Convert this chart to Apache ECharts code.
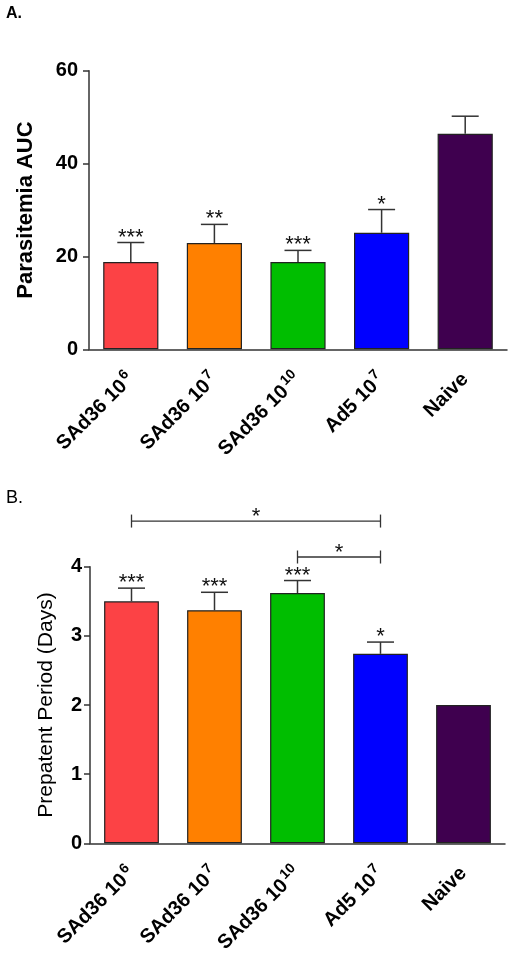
<!DOCTYPE html>
<html><head><meta charset="utf-8">
<script src="https://cdn.jsdelivr.net/npm/echarts@6/dist/echarts.min.js"></script>
<style>html,body{margin:0;padding:0;background:#fff}#c{width:511px;height:953px}</style>
</head><body><div id="c"></div>
<script>
var categories = ['SAd36 10^6', 'SAd36 10^7', 'SAd36 10^10', 'Ad5 10^7', 'Naive'];
var colors = ['#FC4245', '#FF8000', '#00BE00', '#0000FF', '#3F004F'];
var aucMean = [18.8, 22.9, 18.8, 25.1, 46.4];
var aucUpper = [23.0, 26.9, 21.3, 30.1, 50.2];
var aucStars = ['***', '**', '***', '*', ''];
var aucTicks = [0, 20, 40, 60];
var ppMean = [3.5, 3.37, 3.62, 2.74, 2.0];
var ppUpper = [3.69, 3.63, 3.80, 2.91, 2.0];
var ppStars = ['***', '***', '***', '*', ''];
var ppTicks = [0, 1, 2, 3, 4];
var brackets = [[0, 3, 4.66, '*'], [2, 3, 4.14, '*']];

function labelFmt(v) {
  var p = v.split('^');
  if (p.length === 1) return '{b|' + v + '}';
  return '{b|' + p[0] + '}{s|' + p[1] + '}';
}
var font = 'Liberation Sans, Arial, sans-serif';
function xAxis(gi) {
  return {
    type: 'category', gridIndex: gi, data: categories,
    axisLine: {lineStyle: {color: '#333', width: 1.5}},
    axisTick: {alignWithLabel: true, length: 6, lineStyle: {color: '#333', width: 1.5}},
    axisLabel: {
      rotate: 45, interval: 0, margin: 27, formatter: labelFmt,
      rich: {
        b: {fontFamily: font, fontWeight: 'bold', fontSize: 20, color: '#000'},
        s: {fontFamily: font, fontWeight: 'bold', fontSize: 14, color: '#000', verticalAlign: 'top', padding: [0, 0, 12, 2]}
      }
    }
  };
}
function yAxis(gi, max, interval, name, bold, nameGap, nameSize, margin) {
  return {
    type: 'value', gridIndex: gi, min: 0, max: max, interval: interval,
    name: name, nameLocation: 'middle', nameGap: nameGap,
    nameTextStyle: {fontFamily: font, fontWeight: bold ? 'bold' : 'normal', fontSize: nameSize, color: '#000'},
    splitLine: {show: false},
    axisLine: {show: true, lineStyle: {color: '#333', width: 1.5}},
    axisTick: {show: true, length: 6, lineStyle: {color: '#333', width: 1.5}},
    axisLabel: {fontFamily: font, fontWeight: 'bold', fontSize: 20, color: '#000', margin: margin}
  };
}
function barData(vals) {
  return vals.map(function (v, i) { return {value: v, itemStyle: {color: colors[i]}}; });
}
function errData(mean, upper, stars) {
  return mean.map(function (m, i) { return [i, m, upper[i], stars[i]]; });
}
function errRender(params, api) {
  var x = api.value(0), m = api.value(1), u = api.value(2);
  var p0 = api.coord([x, m]), p1 = api.coord([x, u]);
  var children = [];
  if (u > m) {
    children.push({type: 'line', shape: {x1: p0[0], y1: p0[1], x2: p1[0], y2: p1[1]}, style: {stroke: '#333', lineWidth: 1.5}});
    children.push({type: 'line', shape: {x1: p1[0] - 13.5, y1: p1[1], x2: p1[0] + 13.5, y2: p1[1]}, style: {stroke: '#333', lineWidth: 1.5}});
  }
  var s = api.value(3);
  if (s) {
    children.push({type: 'text', style: {text: s, x: p1[0], y: p1[1] + 6, align: 'center', verticalAlign: 'bottom', fontFamily: font, fontSize: 22, fill: '#111'}});
  }
  return {type: 'group', children: children};
}
function bracketRender(params, api) {
  var a = api.coord([api.value(0), api.value(2)]);
  var b = api.coord([api.value(1), api.value(2)]);
  var mid = (a[0] + b[0]) / 2;
  return {type: 'group', children: [
    {type: 'line', shape: {x1: a[0], y1: a[1], x2: b[0], y2: b[1]}, style: {stroke: '#333', lineWidth: 1.3}},
    {type: 'line', shape: {x1: a[0], y1: a[1] - 6.5, x2: a[0], y2: a[1] + 6.5}, style: {stroke: '#333', lineWidth: 1.3}},
    {type: 'line', shape: {x1: b[0], y1: b[1] - 6.5, x2: b[0], y2: b[1] + 6.5}, style: {stroke: '#333', lineWidth: 1.3}},
    {type: 'text', style: {text: api.value(3), x: mid, y: a[1] + 7, align: 'center', verticalAlign: 'bottom', fontFamily: font, fontSize: 22, fill: '#111'}}
  ]};
}

var chart = echarts.init(document.getElementById('c'), null, {renderer: 'canvas'});
chart.setOption({
  animation: false,
  backgroundColor: '#fff',
  title: [
    {text: 'A.', left: 1, top: 1, textStyle: {fontFamily: font, fontWeight: 'bold', fontSize: 16, color: '#000'}},
    {text: 'B.', left: 1, top: 484, textStyle: {fontFamily: font, fontWeight: 'normal', fontSize: 18, color: '#000'}}
  ],
  grid: [
    {left: 89, top: 70.7, width: 418, height: 278.6, outerBoundsMode: 'none', containLabel: false},
    {left: 90, top: 566.7, width: 415, height: 276.6, outerBoundsMode: 'none', containLabel: false}
  ],
  xAxis: [xAxis(0), xAxis(1)],
  yAxis: [
    yAxis(0, 60, 20, 'Parasitemia AUC', true, 52, 22, 11),
    yAxis(1, 4, 1, 'Prepatent Period (Days)', false, 33, 21, 8)
  ],
  series: [
    {type: 'bar', xAxisIndex: 0, yAxisIndex: 0, data: barData(aucMean), barWidth: '66%', itemStyle: {borderColor: '#222', borderWidth: 1.2}},
    {type: 'custom', xAxisIndex: 0, yAxisIndex: 0, data: errData(aucMean, aucUpper, aucStars), renderItem: errRender, clip: false, z: 3},
    {type: 'bar', xAxisIndex: 1, yAxisIndex: 1, data: barData(ppMean), barWidth: '66%', itemStyle: {borderColor: '#222', borderWidth: 1.2}},
    {type: 'custom', xAxisIndex: 1, yAxisIndex: 1, data: errData(ppMean, ppUpper, ppStars), renderItem: errRender, clip: false, z: 3},
    {type: 'custom', xAxisIndex: 1, yAxisIndex: 1, data: brackets, renderItem: bracketRender, clip: false, z: 3}
  ]
});
</script></body></html>
